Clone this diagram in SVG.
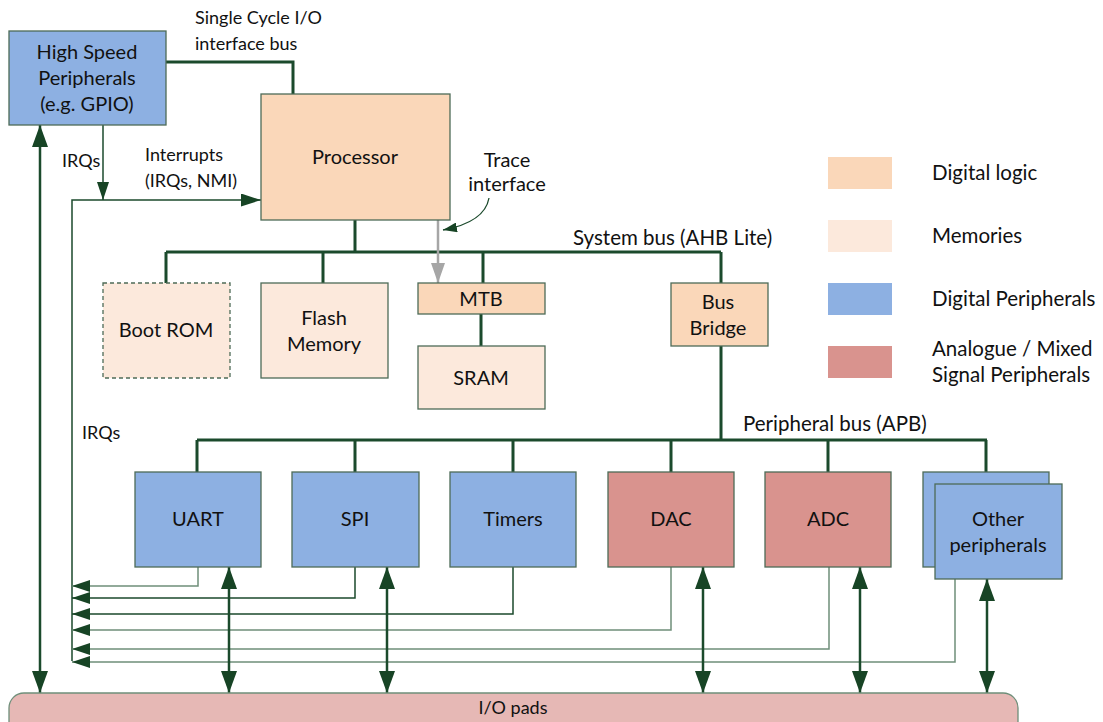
<svg xmlns="http://www.w3.org/2000/svg" width="1103" height="722" viewBox="0 0 1103 722">
<style>
text{font-family:Lato,"Open Sans","Liberation Sans",sans-serif;font-size:20px;fill:#111;text-anchor:middle}
.l{text-anchor:start}
.s{font-size:18px}
.b{font-size:20.5px}
.box{stroke:#4d6b57;stroke-width:1.3}
.dl{fill:#fad7b9}
.mem{fill:#fce9dc}
.dp{fill:#8db0e2}
.an{fill:#d9938e}
.bus{fill:none;stroke:#1b4a2c;stroke-width:3}
.irq{fill:none;stroke:#1b4a2c;stroke-width:1.5}
.irq2{fill:none;stroke:#6f8f7a;stroke-width:1.5}
.bi{fill:none;stroke:#1b4a2c;stroke-width:2.5}
</style>
<defs>
<marker id="big" viewBox="0 0 22 16" refX="22" refY="8" markerWidth="22" markerHeight="16" markerUnits="userSpaceOnUse" orient="auto-start-reverse"><path d="M0,0 L22,8 L0,16 Z" fill="#174425"/></marker>
<marker id="med" viewBox="0 0 20 13" refX="20" refY="6.5" markerWidth="20" markerHeight="13" markerUnits="userSpaceOnUse" orient="auto"><path d="M0,0 L20,6.5 L0,13 Z" fill="#174425"/></marker>
<marker id="sm" viewBox="0 0 18 12" refX="18" refY="6" markerWidth="18" markerHeight="12" markerUnits="userSpaceOnUse" orient="auto"><path d="M0,0 L18,6 L0,12 Z" fill="#174425"/></marker>
<marker id="gr" viewBox="0 0 20 14" refX="20" refY="7" markerWidth="20" markerHeight="14" markerUnits="userSpaceOnUse" orient="auto"><path d="M0,0 L20,7 L0,14 Z" fill="#a6a6a6"/></marker>
<marker id="cv" viewBox="0 0 14 10" refX="14" refY="5" markerWidth="14" markerHeight="10" markerUnits="userSpaceOnUse" orient="auto"><path d="M0,0 L14,5 L0,10 Z" fill="#174425"/></marker>
</defs>

<g id="connectors">
<path class="bus" d="M166,62 H293 V94"/>
<path class="bus" d="M355,220 V252 M166,252 H721 M166,252 V283 M323,252 V283 M483,252 V283 M721,252 V283 M481,314 V346 M721,346 V440"/>
<path class="bus" d="M197,440 H987 M197,440 V472 M355,440 V472 M513,440 V472 M671,440 V472 M828,440 V472 M986,440 V472"/>
<path d="M438,220 V283" fill="none" stroke="#a6a6a6" stroke-width="2.5" marker-end="url(#gr)"/>
<path d="M489,198 C486,215 470,225 443,230" fill="none" stroke="#1b4a2c" stroke-width="1.3" marker-end="url(#cv)"/>
<path class="irq" d="M103,125 V200" marker-end="url(#sm)"/>
<path class="irq" d="M72,661 V200 H261" marker-end="url(#med)" stroke-width="2"/>
<path class="bi" d="M40,125 V693" marker-start="url(#big)" marker-end="url(#big)"/>
<path class="irq2" d="M198,567 V586 H72" marker-end="url(#sm)"/>
<path class="irq" d="M355,567 V598 H72" marker-end="url(#sm)"/>
<path class="irq" d="M513,567 V614 H72" marker-end="url(#sm)"/>
<path class="irq2" d="M671,567 V630 H72" marker-end="url(#sm)"/>
<path class="irq2" d="M829,567 V649 H72" marker-end="url(#sm)"/>
<path class="irq2" d="M955,579 V662 H72" marker-end="url(#sm)"/>
<path class="bi" d="M229,567 V693" marker-start="url(#big)" marker-end="url(#big)"/>
<path class="bi" d="M387,567 V693" marker-start="url(#big)" marker-end="url(#big)"/>
<path class="bi" d="M703,567 V693" marker-start="url(#big)" marker-end="url(#big)"/>
<path class="bi" d="M860,567 V693" marker-start="url(#big)" marker-end="url(#big)"/>
<path class="bi" d="M987,579 V693" marker-start="url(#big)" marker-end="url(#big)"/>
</g>

<g id="labels">
<text class="l s" x="195" y="24">Single Cycle I/O</text>
<text class="l s" x="195" y="50">interface bus</text>
<text class="l s" x="62" y="167">IRQs</text>
<text class="l s" x="145" y="161">Interrupts</text>
<text class="l s" x="145" y="187">(IRQs, NMI)</text>
<text x="507" y="167" font-size="16">Trace</text>
<text x="507" y="191" font-size="16">interface</text>
<text class="l b" x="573" y="245">System bus (AHB Lite)</text>
<text class="l b" x="743" y="431">Peripheral bus (APB)</text>
<text class="l s" x="82" y="439">IRQs</text>
</g>

<g id="hsp"><rect class="box dp" x="9" y="31" width="157" height="94"/><text x="87" y="59">High Speed</text><text x="87" y="85">Peripherals</text><text x="87" y="111">(e.g. GPIO)</text></g>
<g id="processor"><rect class="box dl" x="261" y="94" width="189" height="126"/><text x="355" y="164">Processor</text></g>
<g id="bootrom"><rect class="box mem" x="103" y="283" width="127" height="95" stroke-dasharray="4,3"/><text x="166" y="337">Boot ROM</text></g>
<g id="flash"><rect class="box mem" x="261" y="283" width="127" height="95"/><text x="324" y="325">Flash</text><text x="324" y="351">Memory</text></g>
<g id="mtb"><rect class="box dl" x="418" y="283" width="127" height="31"/><text x="481" y="306">MTB</text></g>
<g id="sram"><rect class="box mem" x="418" y="346" width="127" height="63"/><text x="481" y="385">SRAM</text></g>
<g id="busbridge"><rect class="box dl" x="671" y="283" width="97" height="63"/><text x="718" y="309">Bus</text><text x="718" y="335">Bridge</text></g>

<g id="uart"><rect class="box dp" x="135" y="472" width="126" height="95"/><text x="198" y="526">UART</text></g>
<g id="spi"><rect class="box dp" x="292" y="472" width="127" height="95"/><text x="355" y="526">SPI</text></g>
<g id="timers"><rect class="box dp" x="450" y="472" width="126" height="95"/><text x="513" y="526">Timers</text></g>
<g id="dac"><rect class="box an" x="608" y="472" width="126" height="95"/><text x="671" y="526">DAC</text></g>
<g id="adc"><rect class="box an" x="765" y="472" width="126" height="95"/><text x="828" y="526">ADC</text></g>
<g id="other"><rect class="box dp" x="923" y="472" width="126" height="95"/><rect class="box dp" x="935" y="484" width="127" height="95"/><text x="998" y="526">Other</text><text x="998" y="552">peripherals</text></g>

<g id="iopads"><rect x="9" y="693" width="1009" height="45" rx="15" fill="#e6b8b5" stroke="#6f8f7a" stroke-width="1.3"/><text class="s" x="513" y="714">I/O pads</text></g>

<g id="legend">
<rect class="dl" x="828" y="157" width="64" height="32"/><text class="l b" x="932" y="180">Digital logic</text>
<rect class="mem" x="828" y="220" width="64" height="32"/><text class="l b" x="932" y="243">Memories</text>
<rect class="dp" x="828" y="283" width="64" height="32"/><text class="l b" x="932" y="306">Digital Peripherals</text>
<rect class="an" x="828" y="346" width="64" height="32"/><text class="l b" x="932" y="356">Analogue / Mixed</text><text class="l b" x="932" y="382">Signal Peripherals</text>
</g>
</svg>
